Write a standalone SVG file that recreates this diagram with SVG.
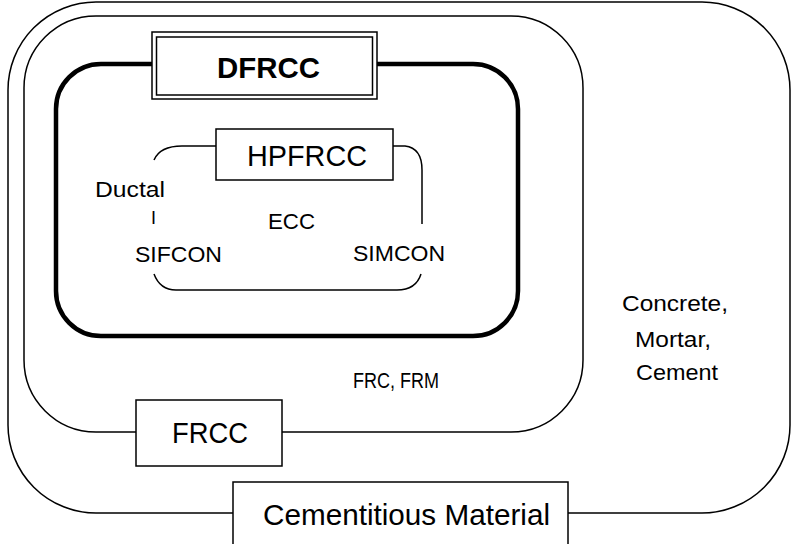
<svg xmlns="http://www.w3.org/2000/svg" width="792" height="544" viewBox="0 0 792 544">
<style>
.ln{fill:none;stroke:#000;stroke-width:1.5}
.box{fill:#fff;stroke:#000;stroke-width:1.5}
.thick{fill:none;stroke:#000;stroke-width:4.5}
text{font-family:"Liberation Sans",Arial,sans-serif;fill:#000}
.t22{font-size:22px}
.t21{font-size:21px}
.t29{font-size:29px}
.t30{font-size:30px}
</style>
<rect width="792" height="544" fill="#fff"/>
<g id="cementitious-material">
<rect class="ln" x="8" y="2" width="782" height="511" rx="88" ry="88"/>
<rect class="box" x="233" y="482" width="335" height="70"/>
<text class="t29" x="263" y="525" textLength="287" lengthAdjust="spacingAndGlyphs">Cementitious Material</text>
</g>
<g id="concrete-label">
<text class="t22" x="622" y="311" textLength="106" lengthAdjust="spacingAndGlyphs">Concrete,</text>
<text class="t22" x="635" y="347" textLength="76" lengthAdjust="spacingAndGlyphs">Mortar,</text>
<text class="t22" x="636" y="380" textLength="82" lengthAdjust="spacingAndGlyphs">Cement</text>
</g>
<g id="frcc">
<rect class="ln" x="24" y="16" width="559" height="416" rx="72" ry="72"/>
<rect class="box" x="136" y="400" width="146" height="66"/>
<text class="t29" x="172" y="443" textLength="76" lengthAdjust="spacingAndGlyphs">FRCC</text>
<text class="t22" x="353" y="388" textLength="86" lengthAdjust="spacingAndGlyphs">FRC, FRM</text>
</g>
<g id="dfrcc">
<rect class="thick" x="56" y="64" width="462" height="272" rx="45" ry="45"/>
<rect class="box" x="152" y="32" width="225" height="67"/>
<rect class="ln" x="156.5" y="37" width="216" height="58"/>
<text class="t30" x="217" y="78" font-weight="bold" textLength="103" lengthAdjust="spacingAndGlyphs">DFRCC</text>
</g>
<g id="hpfrcc">
<path class="ln" d="M154,160 Q160,146 182,146 L216,146"/>
<path class="ln" d="M393,146 L405,146 Q422,148 422,170 L422,224"/>
<path class="ln" d="M154,274 Q160,290 176,290 L397,290 Q416,290 421,274"/>
<rect class="box" x="216" y="129" width="177" height="51"/>
<text class="t30" x="247" y="166" textLength="120" lengthAdjust="spacingAndGlyphs">HPFRCC</text>
<text class="t22" x="95" y="197" textLength="70" lengthAdjust="spacingAndGlyphs">Ductal</text>
<text x="151" y="224" font-size="18">I</text>
<text class="t22" x="268" y="229" textLength="47" lengthAdjust="spacingAndGlyphs">ECC</text>
<text class="t22" x="135" y="262" textLength="87" lengthAdjust="spacingAndGlyphs">SIFCON</text>
<text class="t22" x="353" y="261" textLength="92" lengthAdjust="spacingAndGlyphs">SIMCON</text>
</g>
<g id="connectors"></g>
</svg>
